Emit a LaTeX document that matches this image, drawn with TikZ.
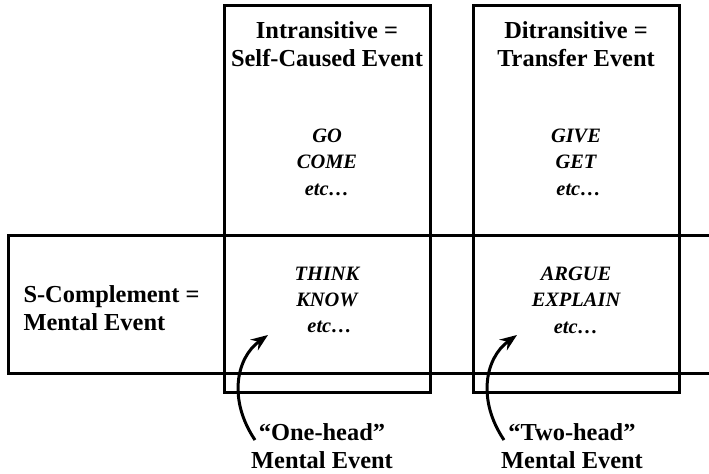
\documentclass[tikz,border=0pt]{standalone}
\usepackage{fontspec}
\setmainfont{Liberation Serif}
\usepackage{tikz}
\usetikzlibrary{positioning,arrows.meta}

\begin{document}
\begin{tikzpicture}[x=1bp, y=-1bp,
      box/.style={draw, line width=3bp, inner sep=0pt},
      colw/.style={minimum width=206bp},
      colh/.style={minimum height=386bp},
      rowh/.style={minimum height=137bp},
      head/.style={font=\bfseries\fontsize{24.5}{28}\selectfont, align=center},
      verbs/.style={font=\bfseries\itshape\fontsize{20.5}{26.5}\selectfont, align=center},
      curvearr/.style={line width=3bp, -{Stealth[length=17bp, width=13bp]}}]
    \clip (0,0) rectangle (709,474);
    \node[box, colw, colh](intr) at (327,199) {};
    \node[box, colw, colh](ditr) at (576,199) {};
    \node[box, rowh, minimum width=740bp, anchor=west](scomp) at (7,304.5) {};

    \node[head](intrh) at (327,44) {Intransitive =\\Self-Caused Event};
    \node[head](ditrh) at (576,44) {Ditransitive =\\Transfer Event};
    \node[head, align=left, anchor=west](scomph) at (20,308) {S-Complement =\\Mental Event};

    \node[verbs](gov) at (327,162) {GO\\COME\\etc\ldots};
    \node[verbs](givev) at (576,162) {GIVE\\GET\\\ etc\ldots};
    \node[verbs](thinkv) at (327,300) {THINK\\KNOW\\\ etc\ldots};
    \node[verbs](arguev) at (576,300) {ARGUE\\EXPLAIN\\etc\ldots};

    \node[head](oneh) at (322,446) {``One-head''\\Mental Event};
    \node[head](twoh) at (572,446) {``Two-head''\\Mental Event};

    \coordinate (onefoot) at (255,440);
    \coordinate (onetip) at (268,335);
    \coordinate (twofoot) at (504,440);
    \coordinate (twotip) at (517,335);
    \draw[curvearr] (onefoot) .. controls (228,400) and (236,358) .. (onetip);
    \draw[curvearr] (twofoot) .. controls (477,400) and (485,358) .. (twotip);
  \end{tikzpicture}
\end{document}
